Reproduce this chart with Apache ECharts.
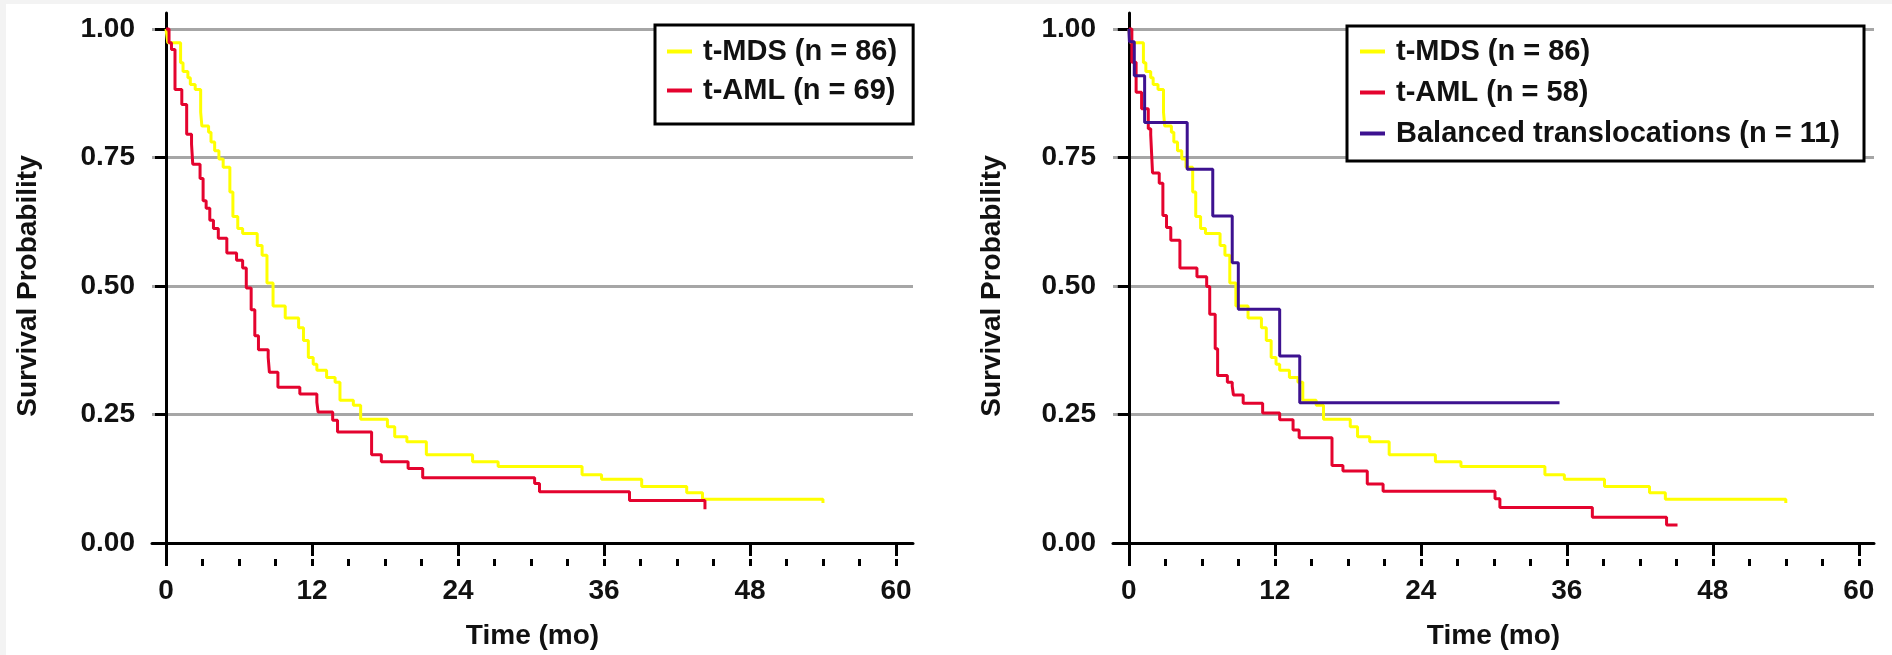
<!DOCTYPE html>
<html>
<head>
<meta charset="utf-8">
<title>Survival curves</title>
<script src="https://cdn.jsdelivr.net/npm/echarts@6/dist/echarts.min.js"></script>
<style>
  html, body { margin: 0; padding: 0; background: #fff; }
  #chart { width: 1892px; height: 655px; }
</style>
</head>
<body>
<div id="chart"></div>
<script>
// t-MDS (n = 86), same curve in both panels
var tMdsTime = [0, 0.15, 1.2, 1.4, 1.8, 2.0, 2.4, 2.85, 2.95, 3.5, 3.7, 4.0, 4.35, 4.7, 5.25, 5.5, 5.9, 6.3, 7.5, 7.9, 8.3, 8.8, 9.8, 10.9, 11.3, 11.7, 12.1, 12.4, 13.2, 13.9, 14.3, 15.4, 16.0, 18.2, 18.8, 19.8, 21.4, 25.2, 27.3, 34.2, 35.8, 39.1, 42.8, 44.1, 54.0];
var tMdsSurv = [1.0, 0.973, 0.934, 0.917, 0.905, 0.892, 0.882, 0.838, 0.811, 0.799, 0.78, 0.763, 0.747, 0.731, 0.683, 0.635, 0.612, 0.602, 0.579, 0.56, 0.506, 0.461, 0.438, 0.419, 0.394, 0.361, 0.348, 0.336, 0.322, 0.313, 0.278, 0.268, 0.241, 0.226, 0.207, 0.197, 0.172, 0.158, 0.149, 0.133, 0.124, 0.11, 0.098, 0.085, 0.078];
// t-AML (n = 69), left panel
var tAml69Time = [0, 0.25, 0.45, 0.74, 1.3, 1.7, 2.1, 2.2, 2.8, 3.05, 3.3, 3.6, 3.9, 4.3, 5.0, 5.8, 6.3, 6.6, 7.0, 7.3, 7.6, 8.4, 8.5, 9.2, 11.0, 12.4, 12.5, 13.7, 14.1, 16.9, 17.7, 19.9, 21.1, 30.3, 30.7, 38.1, 44.3];
var tAml69Surv = [1.0, 0.973, 0.96, 0.882, 0.853, 0.795, 0.776, 0.737, 0.709, 0.666, 0.651, 0.628, 0.612, 0.593, 0.564, 0.55, 0.535, 0.496, 0.454, 0.403, 0.376, 0.361, 0.332, 0.303, 0.29, 0.274, 0.255, 0.239, 0.216, 0.172, 0.158, 0.145, 0.127, 0.116, 0.1, 0.083, 0.066];
// t-AML (n = 58), right panel
var tAml58Time = [0, 0.25, 0.6, 1.05, 1.6, 1.8, 1.95, 2.5, 2.8, 3.1, 3.45, 4.2, 5.6, 6.4, 6.65, 7.1, 7.3, 8.1, 8.5, 8.6, 9.4, 11.0, 12.4, 13.5, 14.0, 16.7, 17.6, 19.6, 20.9, 30.1, 30.5, 38.1, 44.2, 45.1];
var tAml58Surv = [1.0, 0.935, 0.877, 0.845, 0.806, 0.794, 0.72, 0.70, 0.637, 0.614, 0.589, 0.535, 0.518, 0.499, 0.445, 0.378, 0.326, 0.313, 0.305, 0.288, 0.272, 0.253, 0.24, 0.22, 0.205, 0.151, 0.14, 0.115, 0.101, 0.086, 0.069, 0.05, 0.035, 0.035];
// Balanced translocations (n = 11)
var balTime = [0, 0.05, 0.45, 1.3, 4.8, 6.9, 8.5, 9.0, 12.4, 14.05, 35.4];
var balSurv = [1.0, 0.975, 0.909, 0.818, 0.727, 0.636, 0.545, 0.455, 0.364, 0.273, 0.273];

var xMajorTicks = [0, 12, 24, 36, 48, 60];
var xMinorTicks = [0, 3, 6, 9, 12, 15, 18, 21, 24, 27, 30, 33, 36, 39, 42, 45, 48, 51, 54, 57, 60];
var yTicks = [0, 0.25, 0.5, 0.75, 1.0];

var FONT = 'Liberation Sans, Arial, sans-serif';

function zip(xs, ys) {
	var out = [];
	for (var i = 0; i < xs.length; i++) {
		out.push([xs[i], ys[i]]);
	}
	return out;
}

function majorX(gridIndex, min, max) {
	return {
		type: 'value', gridIndex: gridIndex, position: 'bottom',
		min: min, max: max,
		name: 'Time (mo)', nameLocation: 'middle', nameGap: 63,
		nameTextStyle: { fontFamily: FONT, fontWeight: 'bold', fontSize: 28, color: '#111' },
		axisLine: { show: true, lineStyle: { color: '#000', width: 3 } },
		axisTick: { show: true, length: 13, customValues: xMajorTicks, lineStyle: { color: '#000', width: 3 } },
		axisLabel: { show: true, margin: 18, customValues: xMajorTicks, fontFamily: FONT, fontWeight: 'bold', fontSize: 28, color: '#111' },
		splitLine: { show: false }
	};
}

function minorX(gridIndex, min, max) {
	return {
		type: 'value', gridIndex: gridIndex, position: 'bottom',
		min: min, max: max,
		axisLine: { show: false },
		axisTick: { show: true, length: 7, customValues: xMinorTicks, lineStyle: { color: '#000', width: 3 } },
		axisLabel: { show: false },
		splitLine: { show: false }
	};
}

function probY(gridIndex, nameGap) {
	return {
		type: 'value', gridIndex: gridIndex,
		min: -0.031, max: 1.031,
		name: 'Survival Probability', nameLocation: 'middle', nameGap: nameGap, nameRotate: 90,
		nameTextStyle: { fontFamily: FONT, fontWeight: 'bold', fontSize: 28, color: '#111' },
		axisLine: { show: true, lineStyle: { color: '#000', width: 3 } },
		axisTick: { show: true, length: 11, customValues: yTicks, lineStyle: { color: '#000', width: 3 } },
		axisLabel: {
			show: true, margin: 17, customValues: yTicks,
			fontFamily: FONT, fontWeight: 'bold', fontSize: 28, color: '#111',
			formatter: function (v) { return v.toFixed(2); }
		},
		splitLine: { show: true, lineStyle: { color: '#a6a6a6', width: 3 } }
	};
}

function kmLine(name, color, xIdx, yIdx, data) {
	return {
		name: name, type: 'line', step: 'end',
		xAxisIndex: xIdx, yAxisIndex: yIdx,
		symbol: 'none', color: color,
		lineStyle: { color: color, width: 3 },
		data: data
	};
}

function legendBox(left, top, names, fontSize, gap, padding, textPad) {
	return {
		orient: 'vertical', left: left, top: top,
		data: names, selectedMode: false,
		icon: 'rect', itemWidth: 25, itemHeight: 4, itemGap: gap,
		backgroundColor: '#fff', borderColor: '#000', borderWidth: 3, borderRadius: 0,
		padding: padding,
		textStyle: { fontFamily: FONT, fontWeight: 'bold', fontSize: fontSize, color: '#111', padding: [0, 0, 0, textPad] }
	};
}

function loadChart() {
	var myChart = echarts.init(document.getElementById('chart'));
	var yellow = '#ffff00', red = '#e4032e', purple = '#3d1290';
	myChart.setOption({
		animation: false,
		backgroundColor: '#fff',
		graphic: [
			{ type: 'rect', shape: { x: 0, y: 0, width: 1892, height: 4 }, style: { fill: '#f3f3f3' }, silent: true },
			{ type: 'rect', shape: { x: 0, y: 0, width: 6, height: 655 }, style: { fill: '#f3f3f3' }, silent: true }
		],
		grid: [
			{ left: 152, top: 13, width: 761, height: 550 },
			{ left: 1113, top: 13, width: 761, height: 550 }
		],
		xAxis: [majorX(0, -1.15, 61.4), minorX(0, -1.15, 61.4), majorX(1, -1.3, 61.25), minorX(1, -1.3, 61.25)],
		yAxis: [probY(0, 110), probY(1, 107)],
		legend: [
			legendBox(655, 25, ['t-MDS (n = 86)', 't-AML (n = 69)'], 29, 10, [12, 16, 19, 12], 6),
			legendBox(1347, 26, ['t-MDS (n = 86)', 't-AML (n = 58)', 'Balanced translocations (n = 11)'], 29, 12, [11, 24, 13, 13], 6)
		],
		series: [
			kmLine('t-MDS (n = 86)', yellow, 0, 0, zip(tMdsTime, tMdsSurv)),
			kmLine('t-AML (n = 69)', red, 0, 0, zip(tAml69Time, tAml69Surv)),
			kmLine('t-MDS (n = 86)', yellow, 2, 1, zip(tMdsTime, tMdsSurv)),
			kmLine('t-AML (n = 58)', red, 2, 1, zip(tAml58Time, tAml58Surv)),
			kmLine('Balanced translocations (n = 11)', purple, 2, 1, zip(balTime, balSurv))
		]
	});
}
loadChart();
</script>
</body>
</html>
